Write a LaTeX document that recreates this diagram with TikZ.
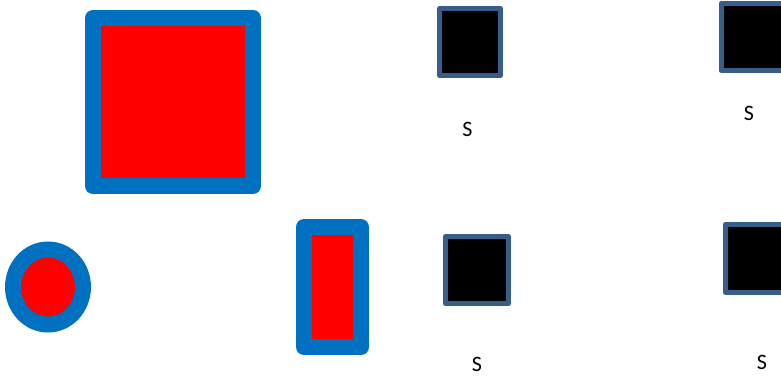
\documentclass[tikz,border=0pt]{standalone}
\usepackage{fontspec}
\setmainfont{Carlito}
\usetikzlibrary{shapes.geometric}
\definecolor{ofblue}{HTML}{0070C0}
\definecolor{ofred}{HTML}{FF0000}
\definecolor{ofsteel}{HTML}{385D8A}
\tikzset{
  bluebox/.style={draw=ofblue, fill=ofred, line width=16pt, line join=round, inner sep=0pt, rectangle},
  blueoval/.style={draw=ofblue, fill=ofred, line width=16pt, inner sep=0pt, ellipse},
  darkbox/.style={draw=ofsteel, fill=black, line width=5pt, line join=round, inner sep=0pt, rectangle},
  slabel/.style={inner sep=0pt, font=\fontsize{22}{24}\selectfont}
}
\begin{document}
\begin{tikzpicture}[x=1pt,y=-1pt]
\useasboundingbox (0,0) rectangle (781,377);
\clip (0,0) rectangle (781,377);
\node[bluebox, minimum width=160pt, minimum height=168pt] (big) at (173,102) {};
\node[blueoval, minimum width=70pt, minimum height=75pt] (oval) at (48,287) {};
\node[bluebox, minimum width=57pt, minimum height=120pt] (tall) at (332.5,287) {};
\node[darkbox, minimum width=61pt, minimum height=67pt] (sq1) at (470,42) {};
\node[darkbox, minimum width=62pt, minimum height=67pt] (sq2) at (752,37) {};
\node[darkbox, minimum width=63pt, minimum height=67pt] (sq3) at (477,270) {};
\node[darkbox, minimum width=62pt, minimum height=68pt] (sq4) at (756.5,258.5) {};
\node[slabel] (s1) at (467.5,129) {S};
\node[slabel] (s2) at (749,113.7) {S};
\node[slabel] (s3) at (477,364) {S};
\node[slabel] (s4) at (762,362.3) {S};
\end{tikzpicture}
\end{document}
